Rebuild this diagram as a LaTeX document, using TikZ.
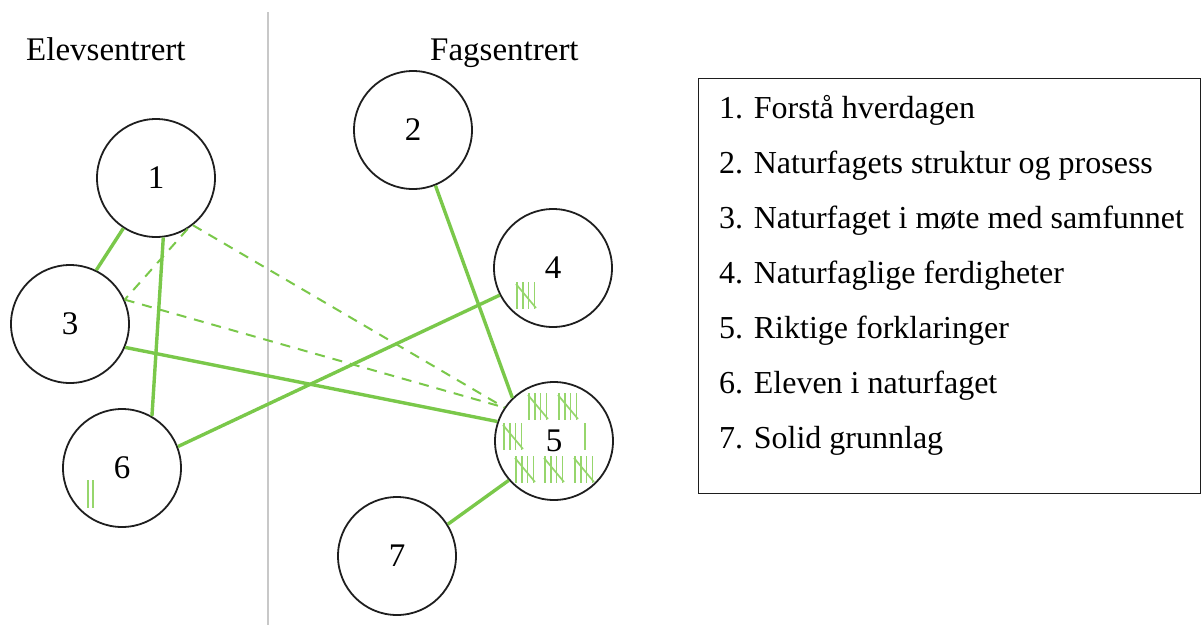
\documentclass[tikz,border=0pt]{standalone}
\usepackage{fontspec}
\setmainfont{Liberation Serif}
\definecolor{linkgreen}{RGB}{122,200,74}
\definecolor{tallygreen}{RGB}{150,214,108}
\definecolor{divgray}{RGB}{200,200,200}
\definecolor{ringgray}{RGB}{30,30,30}
\tikzset{
  topic/.style={circle, draw=ringgray, line width=1.8pt, minimum size=118pt, inner sep=0pt,
    font=\fontsize{33}{36}\selectfont},
  strong/.style={draw=linkgreen, line width=3.4pt},
  weak/.style={draw=linkgreen, line width=2pt, dash pattern=on 10pt off 8pt},
  tallystroke/.style={draw=tallygreen, line width=1.7pt},
  heading/.style={anchor=base west, inner sep=0pt, font=\fontsize{33}{36}\selectfont},
  legendline/.style={anchor=base west, inner sep=0pt, font=\fontsize{32}{36}\selectfont},
  tallyfive/.pic={
    \foreach \k in {0,1,2,3} \draw[tallystroke] (1+\k*5.8,0) -- (1+\k*5.8,27);
    \draw[tallystroke] (0,2) -- (20,26);
  }
}
\begin{document}
\begin{tikzpicture}[x=1pt, y=-1pt]
  \useasboundingbox (0,0) rectangle (1201,625);

  % column divider and headings
  \draw[divgray, line width=1.5pt] (268,12) -- (268,625);
  \node[heading] (hElev) at (26,60) {Elevsentrert};
  \node[heading] (hFag) at (430,60) {Fagsentrert};

  % topics
  \node[topic] (n1) at (156,178) {1};
  \node[topic] (n2) at (413,130) {2};
  \node[topic] (n3) at (70,324) {3};
  \node[topic] (n4) at (553,268) {4};
  \node[topic] (n5) at (554,441) {5};
  \node[topic] (n6) at (122,468) {6};
  \node[topic] (n7) at (397,556) {7};

  % strong links
  \draw[strong] (n1.237) -- (n3.64);
  \draw[strong] (n1.277) -- (n6.60);
  \draw[strong] (n2.292) -- (n5.134);
  \draw[strong] (n4.207) -- (n6.21);
  \draw[strong] (n3.337) -- (n5.161);
  \draw[strong] (n5.221) -- (n7.32);

  % weak links
  \draw[weak] (n1.308) -- (n5.146);
  \draw[weak] (n1.302) -- (n3.24);
  \draw[weak] (n3.24) -- (n5.146);

  % tallies
  \pic at (528,393) {tallyfive};
  \pic at (558,393) {tallyfive};
  \pic at (503,423) {tallyfive};
  \draw[tallystroke] (585,423) -- (585,450);
  \pic at (515,456) {tallyfive};
  \pic at (544,456) {tallyfive};
  \pic at (574,456) {tallyfive};
  \pic at (516,282) {tallyfive};
  \draw[tallystroke] (88,480) -- (88,508);
  \draw[tallystroke] (93,480) -- (93,508);

  % legend
  \node[draw=ringgray, line width=1.2pt, minimum width=502pt, minimum height=415pt, anchor=north west, inner sep=0pt]
    (legend) at (698,78) {};
  \node[legendline] (l1) at (719,118) {1. Forstå hverdagen};
  \node[legendline] (l2) at (719,173) {2. Naturfagets struktur og prosess};
  \node[legendline] (l3) at (719,228) {3. Naturfaget i møte med samfunnet};
  \node[legendline] (l4) at (719,283) {4. Naturfaglige ferdigheter};
  \node[legendline] (l5) at (719,338) {5. Riktige forklaringer};
  \node[legendline] (l6) at (719,393) {6. Eleven i naturfaget};
  \node[legendline] (l7) at (719,448) {7. Solid grunnlag};
\end{tikzpicture}
\end{document}
